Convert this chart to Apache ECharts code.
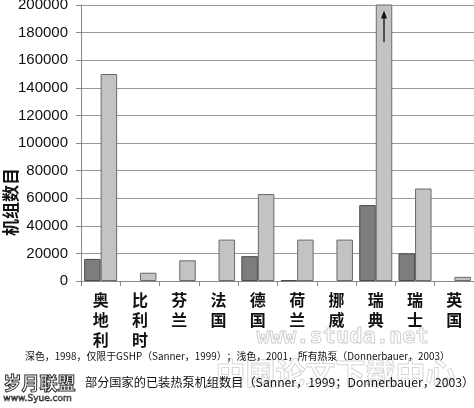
<!DOCTYPE html>
<html><head><meta charset="utf-8">
<script src="https://cdn.jsdelivr.net/npm/echarts@6/dist/echarts.min.js"></script>
<style>html,body{margin:0;padding:0;background:#fff}#c{width:474px;height:408px}</style>
</head><body><div id="c"></div>
<script>
const categories = ['奥地利','比利时','芬兰','法国','德国','荷兰','挪威','瑞典','瑞士','英国'];
const dark1998 = [16000, null, null, null, 18000, 600, null, 55000, 20000, null];
const light2001 = [150000, 6000, 15000, 30000, 63000, 30000, 30000, 230000, 67000, 3000];
const yTicks = [0, 20000, 40000, 60000, 80000, 100000, 120000, 140000, 160000, 180000, 200000];
const arrowData = [['瑞典', 173000, 196000]];
const yTitle = '机组数目';

const chart = echarts.init(document.getElementById('c'), null, {renderer:'canvas'});
const cjk = '"Noto Sans CJK SC", sans-serif';
chart.setOption({
  animation: false,
  backgroundColor: '#fff',
  grid: {left: 81, right: 0, top: 5, height: 276, outerBoundsMode: 'none', containLabel: false},
  xAxis: {
    type: 'category', data: categories,
    axisLine: {lineStyle: {color: '#888', width: 1}},
    axisTick: {show: true, length: 5, lineStyle: {color: '#888'}},
    axisLabel: {
      interval: 0, margin: 9, color: '#111', fontFamily: cjk, fontSize: 16, fontWeight: 'bold',
      lineHeight: 20, verticalAlign: 'top',
      formatter: v => v.split('').join('\n')
    }
  },
  yAxis: {
    type: 'value', min: 0, max: 200000, interval: 20000,
    axisLine: {show: true, lineStyle: {color: '#888'}},
    axisTick: {show: true, length: 5, lineStyle: {color: '#888'}},
    axisLabel: {color: '#111', fontFamily: 'Liberation Sans, Arial, sans-serif', fontSize: 15, margin: 13,
      formatter: v => yTicks.includes(v) ? String(v) : ''},
    splitLine: {lineStyle: {color: '#999', width: 1}}
  },
  series: [
    {type: 'bar', name: '1998', data: dark1998, barGap: '0%', barCategoryGap: '16%',
     itemStyle: {color: '#7d7d7d', borderColor: '#4a4a4a', borderWidth: 1}},
    {type: 'bar', name: '2001', data: light2001, clip: true,
     itemStyle: {color: '#c3c3c3', borderColor: '#6a6a6a', borderWidth: 1}},
    {type: 'custom', data: arrowData, z: 10, clip: false,
     renderItem: function (params, api) {
       const a = api.coord([api.value(0), api.value(1)]);
       const b = api.coord([api.value(0), api.value(2)]);
       const w = api.size([1, 0])[0];
       const x = a[0] + w * 0.21;
       return {type: 'group', children: [
         {type: 'line', shape: {x1: x, y1: a[1], x2: x, y2: b[1] + 6}, style: {stroke: '#111', lineWidth: 1.3}},
         {type: 'polygon', shape: {points: [[x, b[1]], [x - 3, b[1] + 8], [x + 3, b[1] + 8]]}, style: {fill: '#111'}}
       ]};
     },
     encode: {x: 0, y: [1, 2]}
    }
  ],
  graphic: [
    {type: 'text', x: 11, y: 202, rotation: Math.PI / 2, z: 5, style: {text: yTitle, font: 'bold 17px ' + cjk, fill: '#111', align: 'center', verticalAlign: 'middle'}},
    {type: 'text', left: 256, top: 326, z: 0, style: {text: 'www.studa.net', font: 'bold 22px "DejaVu Sans Mono", monospace', fill: 'rgba(255,255,255,0)', stroke: '#d0d0d0', lineWidth: 1}},
    {type: 'text', left: 215, top: 357, z: 0, style: {text: '中国论文下载中心', font: 'bold 30px ' + cjk, fill: 'rgba(255,255,255,0)', stroke: '#d8d8d8', lineWidth: 1}},
    {type: 'text', left: 25, top: 351, z: 5, style: {text: '深色，1998，仅限于GSHP（Sanner，1999）；浅色，2001，所有热泵（Donnerbauer，2003）', font: '9.9px ' + cjk, fill: '#111'}},
    {type: 'text', left: 3, top: 374, z: 5, style: {text: '岁月联盟', font: 'bold 18px ' + cjk, fill: 'rgba(255,255,255,0.2)', stroke: '#111', lineWidth: 1}},
    {type: 'text', left: 85, top: 376, z: 5, style: {text: '部分国家的已装热泵机组数目（Sanner，1999；Donnerbauer，2003）', font: '12.2px ' + cjk, fill: '#111'}},
    {type: 'text', left: 3, top: 394, z: 5, style: {text: 'www.Syue.com', font: '9px "DejaVu Sans", sans-serif', fill: 'rgba(255,255,255,0)', stroke: '#222', lineWidth: 0.6}}
  ]
});
</script></body></html>
